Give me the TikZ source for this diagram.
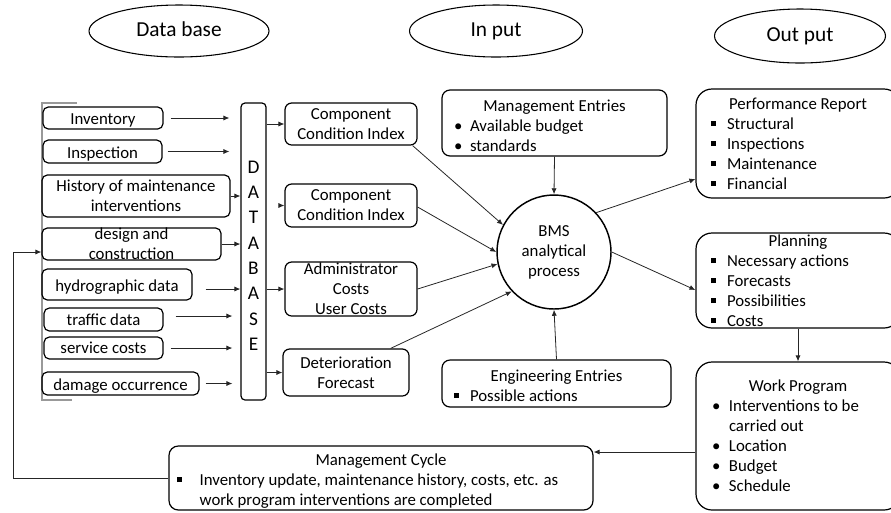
\documentclass[tikz,border=0pt]{standalone}
\usepackage{fontspec}
\setmainfont{Carlito}
\usetikzlibrary{shapes.geometric,arrows.meta,calc}
\newcommand\bx[3]{\parbox[c][#2][c]{#1}{#3}}
\newcommand\cbx[3]{\parbox[c][#2][c]{#1}{\centering #3}}
\newcommand\sqb{\raisebox{2.3pt}{\rule{3.6pt}{3.6pt}}}
\newcommand\myitem[3]{\noindent\hspace*{#1}\makebox[#2][l]{#3}}
\begin{document}
\begin{tikzpicture}[x=0.75pt,y=-0.75pt,
  every node/.style={inner sep=0pt, font=\fontsize{12.6}{15}\selectfont},
  box/.style={draw, line width=0.9pt, rounded corners=4pt},
  bigbox/.style={draw, line width=0.9pt, rounded corners=12pt},
  arr/.style={-{Latex[length=4.5pt,width=3.8pt]}, line width=0.6pt, draw=black!85},
  oval/.style={draw, ellipse, line width=0.8pt, text height=11pt, text depth=3.2pt, font=\fontsize{16}{18}\selectfont},
]
\useasboundingbox (0,0) rectangle (891,512);
\clip (0,0) rectangle (891,512);

% headings
\node[oval, minimum width=135pt, minimum height=39pt] (ebase) at (179,31) {Data base};
\node[oval, minimum width=129.75pt, minimum height=39pt] (einput) at (496,31) {In put};
\node[oval, minimum width=128.25pt, minimum height=40.5pt] (eoutput) at (800,36) {Out put};

% bracket
\draw[gray!80, line width=0.8pt] (77,103) -- (42,103) -- (42,400) -- (72,400);

% data sources
\node[box] (inv) at (103,118) {\cbx{90pt}{16.5pt}{\vspace*{3.5pt}Inventory}};
\node[box] (insp) at (102.5,151.5) {\cbx{89.25pt}{17.25pt}{\vspace*{3.5pt}Inspection}};
\node[box] (hist) at (136,196) {\cbx{141pt}{31.5pt}{History of maintenance\\interventions}};
\node[box] (design) at (131.5,244) {\cbx{134.25pt}{24pt}{design and\\construction}};
\node[box] (hydro) at (117,284.5) {\cbx{112.5pt}{23.25pt}{\vspace*{3.5pt}hydrographic data}};
\node[box] (traffic) at (103.5,319.5) {\cbx{89.25pt}{17.25pt}{traffic data}};
\node[box] (service) at (103.5,348) {\cbx{89.25pt}{16.5pt}{service costs}};
\node[box] (damage) at (120.5,383.5) {\cbx{117.75pt}{17.25pt}{\vspace*{3.5pt}damage occurrence}};

% database
\node[box, rounded corners=3pt] (db) at (253.5,251.5) {\parbox[c][222.75pt][c]{18.75pt}{\centering\fontsize{14.5}{19}\selectfont\vspace*{6pt}D\\A\\T\\A\\B\\A\\S\\E}};

% middle boxes
\node[box, rounded corners=5pt] (cci1) at (351,124) {\cbx{99pt}{31.5pt}{Component\\Condition Index}};
\node[box, rounded corners=5pt] (cci2) at (351,205.5) {\cbx{99pt}{32.25pt}{Component\\Condition Index}};
\node[box, rounded corners=5pt] (admin) at (351,289) {\cbx{99pt}{40.5pt}{Administrator\\Costs\\User Costs}};
\node[box, rounded corners=5pt] (det) at (346,372.5) {\cbx{94.5pt}{35.25pt}{Deterioration\\Forecast}};

% inputs
\node[box, rounded corners=6pt] (mgmt) at (554.5,123) {\bx{168.75pt}{49.5pt}{\vspace*{4.5pt}{\centering Management Entries\par}\myitem{9pt}{12pt}{\textbullet}Available budget\par\myitem{9pt}{12pt}{\textbullet}standards}};
\node[draw, circle, line width=1.1pt, minimum size=85.5pt, align=center] (bms) at (554,252) {BMS\\analytical\\process};
\node[box, rounded corners=6pt] (eng) at (556.5,383.5) {\bx{171.75pt}{35.25pt}{\vspace*{3pt}{\centering Engineering Entries\par}\myitem{9pt}{12pt}{\sqb}Possible actions}};

% outputs
\node[bigbox] (perf) at (798,143.5) {\bx{153pt}{81.75pt}{{\centering Performance Report\par}\myitem{11.25pt}{12pt}{\sqb}Structural\par\myitem{11.25pt}{12pt}{\sqb}Inspections\par\myitem{11.25pt}{12pt}{\sqb}Maintenance\par\myitem{11.25pt}{12pt}{\sqb}Financial}};
\node[bigbox] (planning) at (798,280.5) {\bx{153pt}{71.25pt}{{\centering Planning\par}\myitem{11.25pt}{12pt}{\sqb}Necessary actions\par\myitem{11.25pt}{12pt}{\sqb}Forecasts\par\myitem{11.25pt}{12pt}{\sqb}Possibilities\par\myitem{11.25pt}{12pt}{\sqb}Costs}};
\node[bigbox] (work) at (798,436) {\bx{153pt}{111pt}{{\centering Work Program\par}\myitem{12pt}{12.75pt}{\textbullet}Interventions to be\par\noindent\hspace*{24.75pt}carried out\par\myitem{12pt}{12.75pt}{\textbullet}Location\par\myitem{12pt}{12.75pt}{\textbullet}Budget\par\myitem{12pt}{12.75pt}{\textbullet}Schedule}};
\node[box, rounded corners=7pt] (mcycle) at (381,478) {\bx{318pt}{48pt}{\vspace*{4pt}{\centering Management Cycle\par}\myitem{6pt}{17pt}{\sqb}Inventory update, maintenance history, costs, etc. as\par\noindent\hspace*{23pt}work program interventions are completed}};

\coordinate (loopx) at (13,252);

% sources -> database
\draw[arr, shorten <=5.25pt, shorten >=8.25pt] (inv.east) -- (inv.east -| db.west);
\draw[arr, shorten <=3.75pt, shorten >=8.25pt] (insp.east) -- (insp.east -| db.west);
\draw[arr] (hist.east) -- (hist.east -| db.west);
\draw[arr] (design.east) -- (design.east -| db.west);
\draw[arr, shorten <=9.75pt] ($(hydro.east)+(0,4.5)$) -- ($(hydro.east -| db.west)+(0,4.5)$);
\draw[arr, shorten <=9pt, shorten >=6pt] ($(traffic.east)+(0,-3.5)$) -- ($(traffic.east -| db.west)+(0,-3.5)$);
\draw[arr, shorten <=5.25pt, shorten >=6pt] (service.east) -- (service.east -| db.west);
\draw[arr, shorten <=4.5pt, shorten >=6pt] (damage.east) -- (damage.east -| db.west);

% database -> middle
\draw[arr] (db.east |- cci1.west) -- (cci1.west);
\draw[arr, shorten <=9pt] (db.east |- cci2.west) -- (cci2.west);
\draw[arr] (db.east |- admin.west) -- (admin.west);
\draw[arr] (db.east |- det.west) -- (det.west);

% into BMS
\draw[arr] ($(cci1.south east)+(-5,0)$) -- (bms.152);
\draw[arr] ($(cci2.east)+(0,1.5)$) -- (bms.180);
\draw[arr] (admin.east) -- (bms.192);
\draw[arr] ($(det.north east)+(-19,0)$) -- (bms.223.6);
\draw[arr] (mgmt.south) -- (bms.north);
\draw[arr] (eng.north) -- (bms.south);

% outputs
\draw[arr] (bms.43) -- ($(perf.west)+(0,35.5)$);
\draw[arr] (bms.east) -- ($(planning.west)+(0,9.5)$);
\draw[arr] (planning.south) -- (work.north);
\draw[arr] ($(work.west)+(0,16)$) -- ($(mcycle.east)+(0,-26)$);
\draw[arr] (mcycle.west) -| (loopx) -- ($(design.west)+(0,8)$);
\end{tikzpicture}
\end{document}
